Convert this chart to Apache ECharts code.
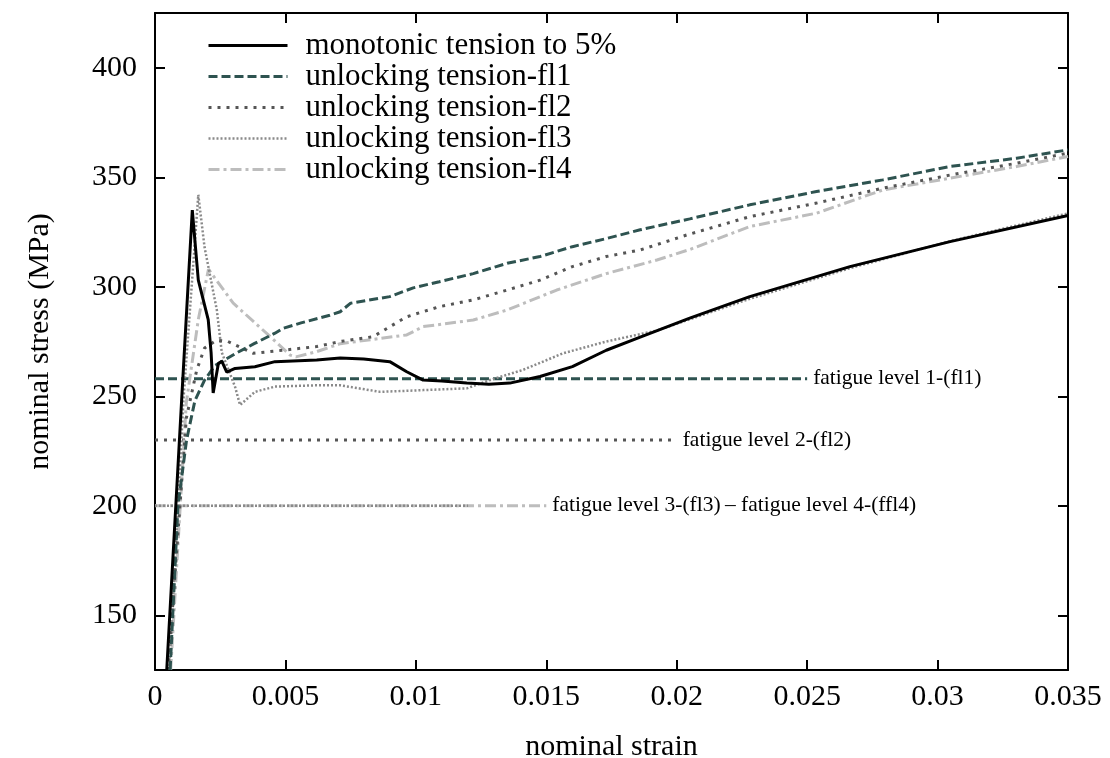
<!DOCTYPE html>
<html>
<head>
<meta charset="utf-8">
<script src="https://cdn.jsdelivr.net/npm/echarts@6/dist/echarts.min.js"></script>
<style>
  html, body { margin: 0; padding: 0; background: #fff; }
  #chart { width: 1110px; height: 758px; }
</style>
</head>
<body>
<div id="chart"></div>
<script>
// tick labels
var xTicks = [0, 0.005, 0.01, 0.015, 0.02, 0.025, 0.03, 0.035];
var yTicks = [150, 200, 250, 300, 350, 400];

// monotonic tension to 5%
var monoStrain = [0.00045, 0.00102, 0.00143, 0.00166, 0.00204, 0.00215, 0.00223, 0.00243, 0.00256, 0.00275, 0.00307, 0.00383, 0.0046, 0.0062, 0.0071, 0.008, 0.009, 0.00965, 0.01028, 0.011, 0.01195, 0.0128, 0.0136, 0.01476, 0.016, 0.0173, 0.0186, 0.0205, 0.0228, 0.02664, 0.03048, 0.035];
var monoStress = [125, 248, 335, 303, 285, 270, 251.5, 265, 266, 261, 262.7, 263.5, 265.8, 266.5, 267.5, 267, 265.8, 261.2, 257.4, 257, 256, 255.5, 256, 259, 263.5, 271, 277, 285.7, 295.5, 309.2, 320.6, 332.5];

// unlocking tension-fl1
var fl1Strain = [0.00058, 0.00088, 0.00121, 0.00153, 0.0019, 0.0023, 0.0031, 0.0038, 0.0046, 0.0049, 0.0056, 0.0067, 0.0071, 0.0075, 0.009, 0.0099, 0.0109, 0.0122, 0.0135, 0.01476, 0.016, 0.0173, 0.0186, 0.0205, 0.0228, 0.02536, 0.0279, 0.03048, 0.03303, 0.035];
var fl1Stress = [125, 200, 230, 248, 257.4, 264, 269.6, 274, 278.8, 281, 283.5, 287, 288.6, 292.5, 295.5, 299.5, 302.3, 306, 310.7, 313.8, 318.3, 322, 326, 331, 337.4, 343.5, 348.8, 354.9, 358.7, 362.5];

// unlocking tension-fl2
var fl2Strain = [0.0005, 0.0012, 0.0016, 0.0019, 0.00236, 0.0028, 0.00377, 0.0049, 0.0062, 0.0071, 0.00836, 0.00965, 0.0109, 0.0122, 0.0135, 0.01476, 0.016, 0.0173, 0.0186, 0.0204, 0.0228, 0.02536, 0.0279, 0.03048, 0.03303, 0.035];
var fl2Stress = [125, 240, 262, 272, 275.6, 275, 269.6, 271, 272.7, 275, 277.2, 286.3, 290.9, 294, 298.5, 303, 309.2, 313.8, 316.8, 323.7, 332, 338.2, 345, 351, 356.4, 361];

// unlocking tension-fl3
var fl3Strain = [0.00055, 0.0011, 0.00166, 0.0019, 0.00237, 0.00256, 0.00307, 0.00326, 0.00383, 0.0046, 0.0062, 0.0071, 0.00863, 0.01028, 0.01195, 0.01284, 0.0141, 0.01564, 0.0173, 0.01924, 0.0228, 0.02664, 0.03048, 0.035];
var fl3Stress = [125, 250, 342, 318, 289.4, 270, 254.3, 246, 252, 254.4, 255, 255, 252, 252.8, 253.6, 257.4, 262, 269.6, 275, 280, 294.5, 308.5, 320.8, 333.5];

// unlocking tension-fl4
var fl4Strain = [0.0006, 0.0012, 0.00166, 0.00205, 0.003, 0.00428, 0.00518, 0.0054, 0.0062, 0.0071, 0.00965, 0.01028, 0.0122, 0.0135, 0.0154, 0.0173, 0.01924, 0.0205, 0.0228, 0.02536, 0.0279, 0.03048, 0.03303, 0.035];
var fl4Stress = [125, 247, 285, 308, 292.5, 278.7, 268.8, 268, 270.4, 274, 278, 281.8, 284.8, 289.4, 298.5, 306, 312.2, 317, 327.5, 333.6, 344.2, 349.6, 354.9, 359.5];

// fatigue levels: stress, end strain
var levelNames = ['fatigue level 1-(fl1)', 'fatigue level 2-(fl2)', '', 'fatigue level 3-(fl3)\u2009\u2013 fatigue level 4-(ffl4)'];
var levelStress = [258, 230, 200, 200];
var levelEnd = [0.025, 0.02, 0.012, 0.015];

var curveNames = ['monotonic tension to 5%', 'unlocking tension-fl1', 'unlocking tension-fl2', 'unlocking tension-fl3', 'unlocking tension-fl4'];

function zip(a, b) {
    return a.map(function (v, i) { return [v, b[i]]; });
}

var FONT = '"Liberation Serif", "DejaVu Serif", serif';

var styles = {
    mono: { color: '#000000', width: 3, type: 'solid' },
    fl1: { color: '#2e5350', width: 3, type: [9, 4] },
    fl2: { color: '#555555', width: 3, type: [3, 6] },
    fl3: { color: '#8a8a8a', width: 2.5, type: [2, 2] },
    fl4: { color: '#bdbdbd', width: 3, type: [11, 4, 3, 4] }
};
var curveStyles = [styles.mono, styles.fl1, styles.fl2, styles.fl3, styles.fl4];
var levelStyles = [styles.fl1, styles.fl2, styles.fl3, styles.fl4];

function curve(name, data, st, z) {
    return {
        name: name,
        type: 'line',
        data: data,
        symbol: 'none',
        z: z,
        itemStyle: { color: st.color },
        lineStyle: { color: st.color, width: st.width, type: st.type },
        emphasis: { disabled: true }
    };
}

var series = [];
// fl4 line drawn first so fl3 overlays it
[3, 2, 1, 0].forEach(function (i) {
    var st = levelStyles[i];
    series.push({
        type: 'line',
        data: [[0, levelStress[i]], [levelEnd[i], levelStress[i]]],
        symbol: 'none',
        z: 2,
        lineStyle: { color: st.color, width: st.width, type: st.type },
        emphasis: { disabled: true },
        endLabel: {
            show: levelNames[i] !== '',
            formatter: levelNames[i],
            distance: 6,
            color: '#000',
            fontFamily: FONT,
            fontSize: 21.5
        }
    });
});
series.push(curve(curveNames[4], zip(fl4Strain, fl4Stress), styles.fl4, 3));
series.push(curve(curveNames[3], zip(fl3Strain, fl3Stress), styles.fl3, 4));
series.push(curve(curveNames[2], zip(fl2Strain, fl2Stress), styles.fl2, 5));
series.push(curve(curveNames[1], zip(fl1Strain, fl1Stress), styles.fl1, 6));
series.push(curve(curveNames[0], zip(monoStrain, monoStress), styles.mono, 7));

var frameLine = { show: true, onZero: false, lineStyle: { color: '#000', width: 2 } };
var tick = { show: true, inside: true, length: 10, lineStyle: { color: '#000', width: 2 } };

var option = {
    animation: false,
    backgroundColor: '#fff',
    grid: { left: 155, right: 42, top: 13, bottom: 88, outerBoundsMode: 'none' },
    legend: {
        data: curveNames.map(function (n, i) {
            var st = curveStyles[i];
            return {
                name: n,
                itemStyle: { opacity: 0 },
                lineStyle: { color: st.color, width: st.width, type: st.type }
            };
        }),
        orient: 'vertical',
        left: 202,
        top: 25,
        itemWidth: 79,
        itemHeight: 14,
        itemGap: 0,
        textStyle: { fontFamily: FONT, fontSize: 31, lineHeight: 31, color: '#000', padding: [0, 0, 0, 13] }
    },
    xAxis: [{
        type: 'value',
        min: 0,
        max: 0.035,
        name: 'nominal strain',
        nameLocation: 'middle',
        nameGap: 62,
        nameTextStyle: { fontFamily: FONT, fontSize: 30, color: '#000' },
        axisLine: frameLine,
        axisTick: Object.assign({ customValues: xTicks }, tick),
        axisLabel: {
            customValues: xTicks,
            margin: 12,
            fontFamily: FONT,
            fontSize: 30,
            color: '#000',
            formatter: function (v) { return String(v); }
        },
        splitLine: { show: false }
    }, {
        type: 'value',
        position: 'top',
        min: 0,
        max: 0.035,
        axisLine: frameLine,
        axisTick: Object.assign({ customValues: xTicks }, tick),
        axisLabel: { show: false },
        splitLine: { show: false }
    }],
    yAxis: [{
        type: 'value',
        min: 125,
        max: 425,
        name: 'nominal stress (MPa)',
        nameLocation: 'middle',
        nameGap: 100,
        nameTextStyle: { fontFamily: FONT, fontSize: 30, color: '#000' },
        axisLine: frameLine,
        axisTick: Object.assign({ customValues: yTicks }, tick),
        axisLabel: {
            customValues: yTicks,
            margin: 18,
            fontFamily: FONT,
            fontSize: 30,
            color: '#000'
        },
        splitLine: { show: false }
    }, {
        type: 'value',
        position: 'right',
        min: 125,
        max: 425,
        axisLine: frameLine,
        axisTick: Object.assign({ customValues: yTicks }, tick),
        axisLabel: { show: false },
        splitLine: { show: false }
    }],
    series: series
};

var chart = echarts.init(document.getElementById('chart'));
chart.setOption(option);
</script>
</body>
</html>
